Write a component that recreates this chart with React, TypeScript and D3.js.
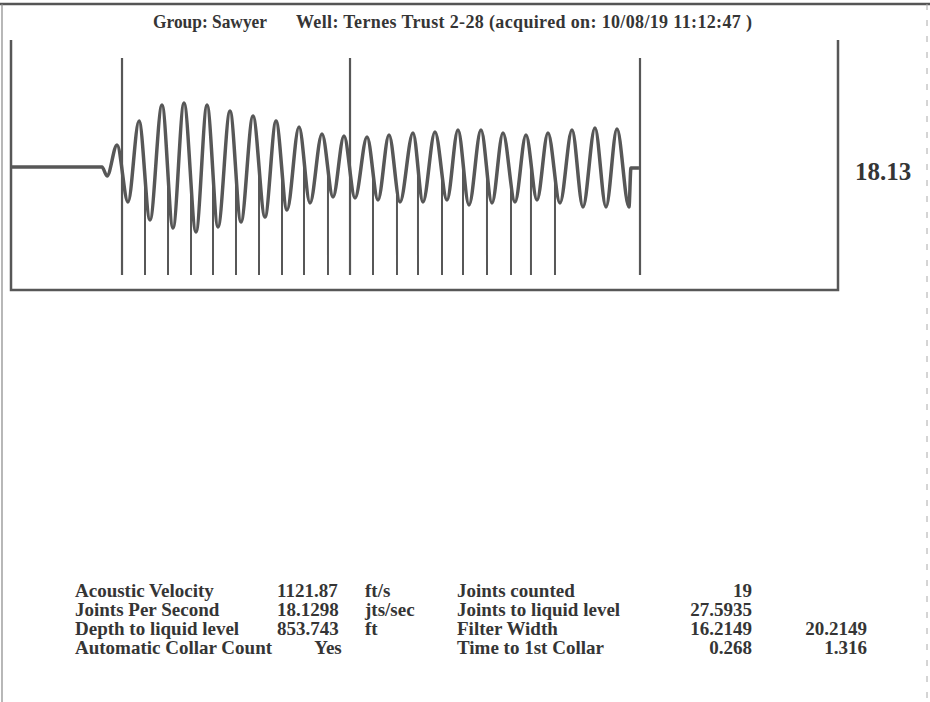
import React from "react";
import * as d3 from "d3";

// ---- data (time in seconds, amplitude in arbitrary units) ----
const waveTime = [
  0.0434, 0.2275, 0.2377, 0.2579, 0.2801, 0.3024, 0.3246, 0.3489, 0.3712, 0.3934,
  0.4177, 0.44, 0.4622, 0.4865, 0.5087, 0.533, 0.5573, 0.5796, 0.6018, 0.6261,
  0.6483, 0.6726, 0.6949, 0.7171, 0.7394, 0.7637, 0.7859, 0.8082, 0.8304, 0.8567,
  0.8769, 0.9012, 0.9255, 0.9477, 0.97, 0.9943, 1.0165, 1.0388, 1.0631, 1.0853,
  1.1076, 1.1298, 1.1541, 1.1784, 1.2006, 1.2249, 1.2472, 1.2694, 1.2937, 1.2977,
  1.3139,
];
const waveAmp = [
  0, 0, -0.09, 0.22, -0.35, 0.46, -0.53, 0.62, -0.61, 0.64,
  -0.65, 0.62, -0.6, 0.56, -0.55, 0.51, -0.5, 0.46, -0.43, 0.4,
  -0.36, 0.33, -0.3, 0.31, -0.31, 0.3, -0.33, 0.32, -0.35, 0.34,
  -0.35, 0.35, -0.33, 0.37, -0.38, 0.37, -0.36, 0.34, -0.35, 0.32,
  -0.33, 0.34, -0.36, 0.37, -0.4, 0.39, -0.4, 0.38, -0.4, -0.01,
  -0.01,
];
const collarTimes = [
  0.268, 0.3145, 0.3611, 0.4076, 0.4521, 0.4986, 0.5452, 0.5917, 0.6362, 0.6847,
  0.7293, 0.7758, 0.8243, 0.8668, 0.9154, 0.9579, 1.0064, 1.055, 1.0954, 1.144,
  1.316,
];
const collarTall = [
  true, false, false, false, false, false, false, false, false, false,
  true, false, false, false, false, false, false, false, false, false,
  true,
];
const timeDomain = [0.0434, 1.7166];
const ampDomain = [-1.23, 1.27];
const tallTop = 1.09;
const markerBottom = -1.08;

const titleGroup = "Group: Sawyer";
const titleWell = "Well: Ternes Trust 2-28 (acquired on: 10/08/19 11:12:47 )";
const rateLabel = "18.13";

const leftLabels = ["Acoustic Velocity", "Joints Per Second", "Depth to liquid level", "Automatic Collar Count"];
const leftValues = ["1121.87", "18.1298", "853.743", "Yes"];
const leftUnits = ["ft/s", "jts/sec", "ft", ""];
const rightLabels = ["Joints counted", "Joints to liquid level", "Filter Width", "Time to 1st Collar"];
const rightValues = ["19", "27.5935", "16.2149", "0.268"];
const rightExtra = ["", "", "20.2149", "1.316"];

// ---- layout ----
const W = 930;
const H = 702;
const plot = { left: 11, right: 838, top: 40, bottom: 290 };
const ink = "#575757";
const textInk = "#353535";
const serif = "'Liberation Serif', 'Times New Roman', serif";

export default function App() {
  const x = d3.scaleLinear().domain(timeDomain).range([plot.left, plot.right]);
  const y = d3.scaleLinear().domain(ampDomain).range([plot.bottom, plot.top]);
  const pts = waveTime.map((t, i) => [t, waveAmp[i]] as [number, number]);
  const line = d3
    .line<[number, number]>()
    .x((d) => x(d[0]))
    .y((d) => y(d[1]))
    .curve(d3.curveMonotoneX);
  const area = d3
    .area<[number, number]>()
    .x((d) => x(d[0]))
    .y0(plot.bottom)
    .y1((d) => y(d[1]))
    .curve(d3.curveMonotoneX);

  const rowY = (i: number) => 597 + i * 19;

  return (
    <svg
      width={W}
      height={H}
      style={{ position: "absolute", left: 0, top: 0, background: "#fff" }}
      fontFamily={serif}
    >
      <defs>
        <clipPath id="belowWave">
          <path d={area(pts) || ""} />
        </clipPath>
      </defs>
      <rect x={0} y={0} width={W} height={H} fill="#fff" />
      {/* scanned page edges */}
      <line x1={0} x2={W} y1={4} y2={4} stroke="#555" strokeWidth={2.5} />
      <line x1={2} x2={2} y1={4} y2={H} stroke="#888" strokeWidth={1.2} />
      <line x1={927} x2={927} y1={4} y2={H} stroke="#aaa" strokeWidth={1} strokeDasharray="6 10" />

      {/* title */}
      <g fontSize={18} fontWeight="bold" fill={textInk}>
        <text x={153} y={28} textLength={114} lengthAdjust="spacingAndGlyphs">{titleGroup}</text>
        <text x={296} y={28} textLength={456} lengthAdjust="spacing">{titleWell}</text>
      </g>

      {/* plot frame */}
      <path
        d={`M${plot.left},${plot.top}V${plot.bottom}H${plot.right}V${plot.top}`}
        fill="none"
        stroke={ink}
        strokeWidth={2.5}
      />

      {/* collar markers */}
      <g clipPath="url(#belowWave)">
        {collarTimes.map((t, i) =>
          collarTall[i] ? null : (
            <line key={i} x1={x(t)} x2={x(t)} y1={plot.top} y2={y(markerBottom)} stroke={ink} strokeWidth={2} />
          )
        )}
      </g>
      {collarTimes.map((t, i) =>
        collarTall[i] ? (
          <line key={"t" + i} x1={x(t)} x2={x(t)} y1={y(tallTop)} y2={y(markerBottom)} stroke={ink} strokeWidth={2.2} />
        ) : null
      )}

      {/* waveform */}
      <path d={line(pts) || ""} fill="none" stroke={ink} strokeWidth={3.5} strokeLinejoin="round" />

      <text x={855} y={180} fontSize={25} fontWeight="bold" fill={textInk}>{rateLabel}</text>

      {/* results table */}
      <g fontSize={19} fontWeight="bold" fill={textInk}>
        {leftLabels.map((s, i) => (
          <text key={"ll" + i} x={75} y={rowY(i)}>{s}</text>
        ))}
        {leftValues.map((s, i) => (
          <text key={"lv" + i} x={i === 3 ? 328 : 277} y={rowY(i)} textAnchor={i === 3 ? "middle" : "start"}>{s}</text>
        ))}
        {leftUnits.map((s, i) => (
          <text key={"lu" + i} x={365} y={rowY(i)}>{s}</text>
        ))}
        {rightLabels.map((s, i) => (
          <text key={"rl" + i} x={457} y={rowY(i)}>{s}</text>
        ))}
        {rightValues.map((s, i) => (
          <text key={"rv" + i} x={752} y={rowY(i)} textAnchor="end">{s}</text>
        ))}
        {rightExtra.map((s, i) => (
          <text key={"re" + i} x={867} y={rowY(i)} textAnchor="end">{s}</text>
        ))}
      </g>
    </svg>
  );
}
